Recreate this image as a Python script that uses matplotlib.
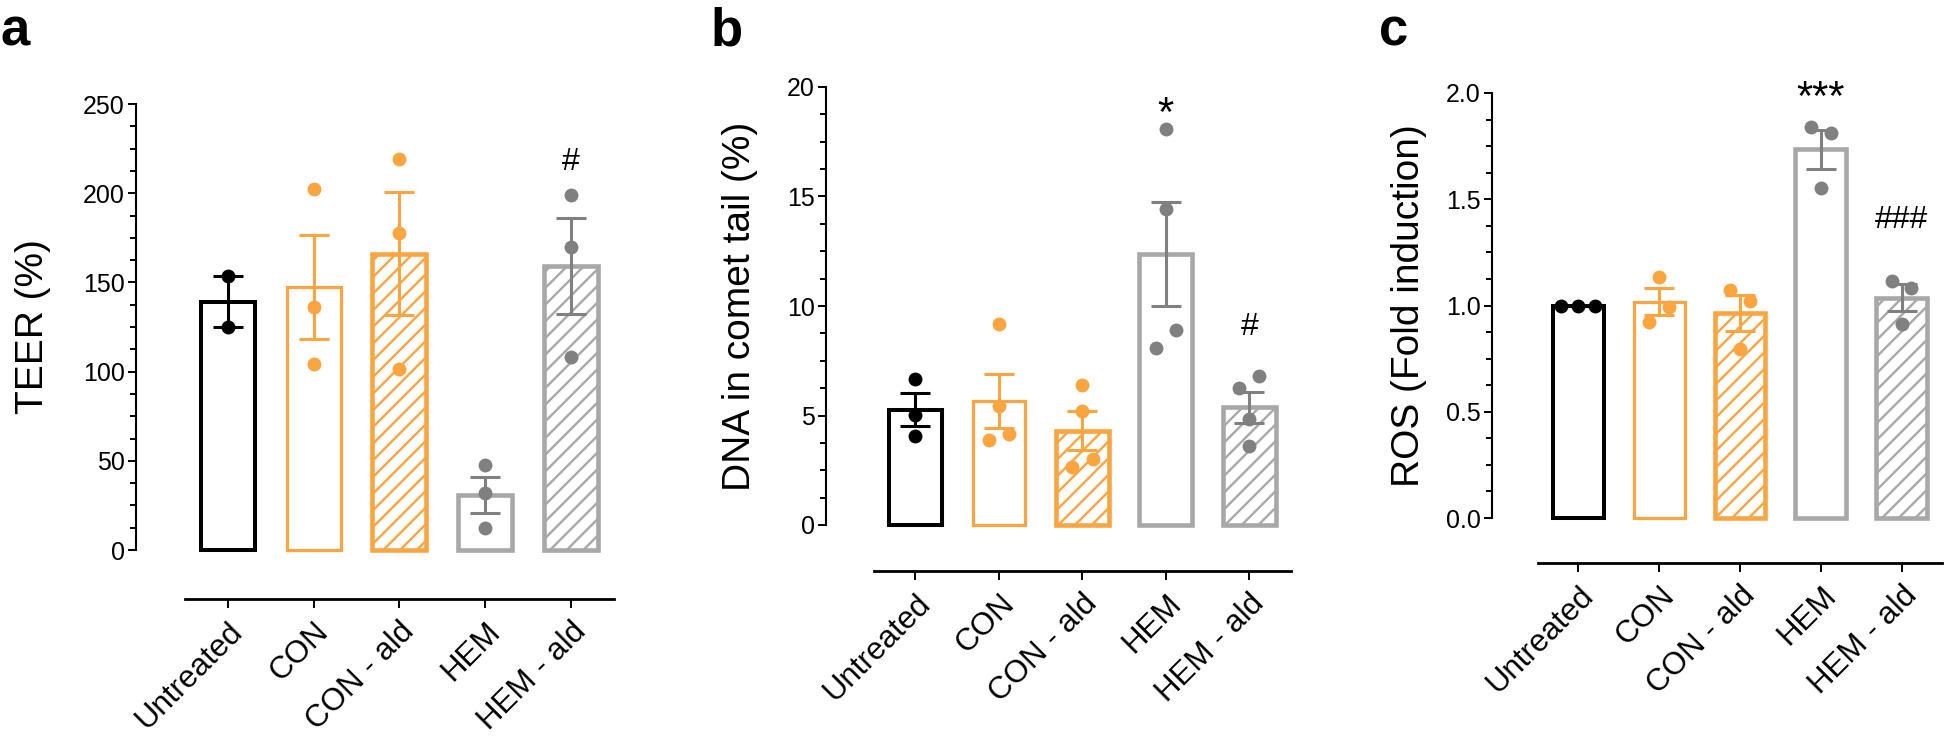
import numpy as np
import matplotlib

matplotlib.use("Agg")

import matplotlib.pyplot as plt
from matplotlib.ticker import AutoMinorLocator, MultipleLocator, FormatStrFormatter

plt.rcParams["font.family"] = ["Liberation Sans", "DejaVu Sans"]
plt.rcParams["hatch.linewidth"] = 1.7

W, H = 1944, 738

groups = ["Untreated", "CON", "CON - ald", "HEM", "HEM - ald"]

# individual replicates per group
teer_pts = [
    [153.6, 124.8],
    [202.6, 136.0, 104.0],
    [219.0, 177.7, 101.3],
    [47.4, 32.0, 12.4],
    [199.2, 170.0, 108.0],
]
teer_jit = [[0, 0], [0, 0, 0], [0, 0, 0], [0, 0, 0], [0, 0, 0]]

dna_pts = [
    [6.65, 5.04, 4.08],
    [9.19, 5.43, 3.89, 4.17],
    [6.39, 5.20, 2.63, 3.01],
    [18.07, 14.45, 8.90, 8.09],
    [6.79, 6.27, 4.82, 3.59],
]
dna_jit = [
    [0, 0, 0],
    [0, 0, -0.12, 0.12],
    [0, 0, -0.12, 0.13],
    [0, 0, 0.12, -0.12],
    [0.12, -0.12, 0, 0],
]

ros_pts = [
    [1.0, 1.0, 1.0],
    [1.136, 0.995, 0.923],
    [1.073, 1.019, 0.797],
    [1.838, 1.812, 1.555],
    [1.116, 1.082, 0.914],
]
ros_jit = [
    [-0.22, 0, 0.2],
    [0, 0.12, -0.13],
    [-0.13, 0.12, 0],
    [-0.12, 0.12, 0],
    [-0.12, 0.12, 0],
]

# significance marks: (group index, text, baseline y)
teer_marks = [(4, "#", 213)]
dna_marks = [(3, "*", 18.2), (4, "#", 8.68)]
ros_marks = [(3, "***", 1.92), (4, "###", 1.365)]

ORANGE = "#FBA540"
LGRAY = "#A8A8A8"
DGRAY = "#808080"
edge_cols = ["black", ORANGE, ORANGE, LGRAY, LGRAY]
dot_cols = ["black", ORANGE, ORANGE, DGRAY, DGRAY]
hatches = [None, None, "//", None, "//"]
edge_lws = [2.9, 2.3, 3.3, 3.3, 3.3]


def px_rect(left, right, bottom, top):
    return [left / W, (H - bottom) / H, (right - left) / W, (bottom - top) / H]


panels = [
    dict(rect=px_rect(136, 614, 550, 104), ymax=250, step=50, fmt="%d",
         ylabel="TEER (%)", lab_x=-0.215, off=35.3,
         pts=teer_pts, jit=teer_jit, marks=teer_marks, letter="a", let_x=0),
    dict(rect=px_rect(826, 1291, 525, 87), ymax=20, step=5, fmt="%d",
         ylabel="DNA in comet tail (%)", lab_x=-0.185, off=33.1,
         pts=dna_pts, jit=dna_jit, marks=dna_marks, letter="b", let_x=711),
    dict(rect=px_rect(1492, 1942, 518, 93), ymax=2.0, step=0.5, fmt="%.1f",
         ylabel="ROS (Fold induction)", lab_x=-0.184, off=32.4,
         pts=ros_pts, jit=ros_jit, marks=ros_marks, letter="c", let_x=1379),
]

fig = plt.figure(figsize=(W / 100, H / 100), dpi=100)

for p in panels:
    ax = fig.add_axes(p["rect"])
    x = np.arange(len(groups))
    means = [np.mean(v) for v in p["pts"]]
    sems = [np.std(v, ddof=1) / np.sqrt(len(v)) for v in p["pts"]]

    for i in x:
        ax.bar(i, means[i], width=0.63, facecolor="white",
               edgecolor=edge_cols[i], linewidth=edge_lws[i],
               hatch=hatches[i], zorder=2, clip_on=False)
        ax.errorbar(i, means[i], yerr=sems[i], color=dot_cols[i],
                    elinewidth=2.2, capsize=10.5, capthick=2.2, zorder=3,
                    clip_on=False)
        ax.plot(i + np.array(p["jit"][i]), p["pts"][i], "o", ms=10,
                color=dot_cols[i], mec="none", zorder=4, clip_on=False)

    for gi, txt, yv in p["marks"]:
        fs = 30 if "*" in txt else 23
        ax.text(gi, yv, txt, ha="center", va="baseline", fontsize=fs,
                color="black", clip_on=False)

    ax.set_xlim(-1.07, 4.5)
    ax.set_ylim(0, p["ymax"])
    ax.spines["top"].set_visible(False)
    ax.spines["right"].set_visible(False)
    ax.spines["left"].set_linewidth(1.5)
    ax.spines["bottom"].set_linewidth(2.0)
    ax.spines["bottom"].set_position(("outward", p["off"]))
    ax.spines["bottom"].set_bounds(-0.5, 4.5)

    ax.yaxis.set_major_locator(MultipleLocator(p["step"]))
    ax.yaxis.set_minor_locator(AutoMinorLocator(4))
    ax.yaxis.set_major_formatter(FormatStrFormatter(p["fmt"]))
    ax.tick_params(axis="y", which="major", length=6, width=1.4, labelsize=18, pad=2)
    ax.tick_params(axis="y", which="minor", length=4, width=1.4)

    ax.set_xticks(x)
    ax.set_xticklabels(groups, rotation=45, ha="right", va="top",
                       rotation_mode="anchor", fontsize=22.5)
    ax.tick_params(axis="x", length=6.5, width=1.4, pad=6)

    ax.set_ylabel(p["ylabel"], fontsize=28, va="center")
    ax.yaxis.set_label_coords(p["lab_x"], 0.5)

    fig.text(p["let_x"] / W, (H - 46) / H, p["letter"], fontsize=38,
             fontweight="bold", ha="left", va="baseline")

fig.savefig("out.png", dpi=100)
